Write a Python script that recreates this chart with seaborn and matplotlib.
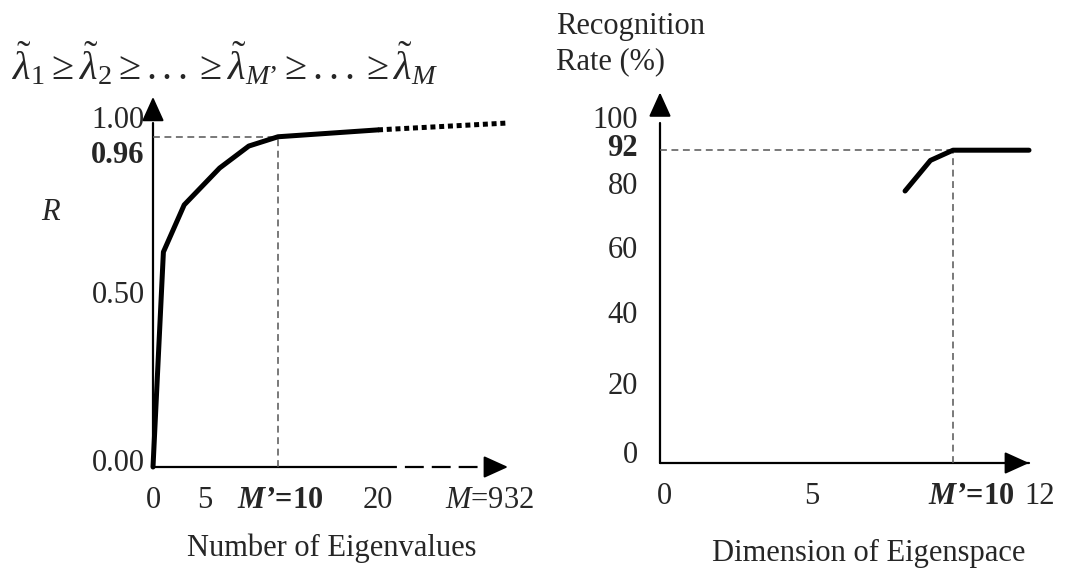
import numpy as np
import pandas as pd
import matplotlib
matplotlib.use("Agg")
import matplotlib.pyplot as plt
import matplotlib.transforms as mtransforms
import seaborn as sns

# ---------------- data ----------------
left_x = [0, 1, 3, 6, 8, 10, 20]
left_r = [0.0, 0.625, 0.762, 0.869, 0.933, 0.96, 0.98]
left_tail_x = [20, 932]
left_tail_r = [0.98, 1.0]
left_xticks = [0, 5, 10, 20, 932]
left_xticklabels = ["0", "5", "$\\mathbfit{M’}$=10", "20", "$\\mathit{M}$=932"]
left_yticks = [0.0, 0.5, 0.96, 1.0]
left_yticklabels = ["0.00", "0.50", "0.96", "1.00"]
left_cut = (10, 0.96)

right_x = [8.3, 9.2, 10, 12]
right_rate = [80, 89, 92, 92]
right_xticks = [0, 5, 10, 12]
right_xticklabels = ["0", "5", "$\\mathbfit{M’}$=10", "12"]
right_yticks = [0, 20, 40, 60, 80, 92, 100]
right_yticklabels = ["0", "20", "40", "60", "80", "92", "100"]
right_cut = (10, 92)

formula = (r"$\tilde{\lambda}_1 \geq \tilde{\lambda}_2 \geq ... \geq "
           r"\tilde{\lambda}_{M’} \geq ... \geq \tilde{\lambda}_M$")

# ---------------- style ----------------
sns.set_theme(style="white")
plt.rcParams["font.family"] = ["Liberation Serif", "DejaVu Serif"]
plt.rcParams["mathtext.fontset"] = "custom"
plt.rcParams["mathtext.rm"] = "Liberation Serif"
plt.rcParams["mathtext.it"] = "Liberation Serif:italic"
plt.rcParams["mathtext.bf"] = "Liberation Serif:bold"
try:
    plt.rcParams["mathtext.bfit"] = "Liberation Serif:bold:italic"
except KeyError:
    pass

W, H, DPI = 1065, 570, 100
FS = 22
fig = plt.figure(figsize=(W / DPI, H / DPI), dpi=DPI)


def piecewise(breaks, pix):
    b = np.asarray(breaks, float)
    p = np.asarray(pix, float)
    s0 = (p[1] - p[0]) / (b[1] - b[0])
    s1 = (p[-1] - p[-2]) / (b[-1] - b[-2])
    B = np.concatenate([[b[0] - 1e6], b, [b[-1] + 1e6]])
    P = np.concatenate([[p[0] - 1e6 * s0], p, [p[-1] + 1e6 * s1]])
    return (lambda x: np.interp(x, B, P)), (lambda q: np.interp(q, P, B))


def make_axes(x0, x1, y0px, ytop, xmap, yscale):
    """x0: pixel of y-axis, x1: right edge px, y0px: pixel of x-axis, ytop: top px"""
    ax = fig.add_axes([x0 / W, 1 - y0px / H, (x1 - x0) / W, (y0px - ytop) / H])
    fwd, inv = piecewise(*xmap)
    ax.set_xscale("function", functions=(fwd, inv))
    ax.set_xlim(float(inv(x0)), float(inv(x1)))
    ax.set_ylim(0, (y0px - ytop) / yscale)
    for s in ax.spines.values():
        s.set_visible(False)
    ax.patch.set_alpha(0)
    ax.tick_params(length=0, labelsize=FS)
    return ax


def nudge(labels, offs):
    for lab, (dx, dy) in zip(labels, offs):
        lab.set_transform(lab.get_transform() +
                          mtransforms.ScaledTranslation(dx / DPI, -dy / DPI, fig.dpi_scale_trans))


def head(ax, tip, back):
    ax.annotate("", xy=tip, xytext=back, xycoords="data", textcoords="offset points",
                arrowprops=dict(arrowstyle="-|>,head_length=1.5,head_width=0.68",
                                mutation_scale=10, lw=1.5, color="black",
                                shrinkA=0, shrinkB=0),
                annotation_clip=False)


# ---------------- left panel ----------------
axL = make_axes(153, 530, 467, 90, ([0, 5, 10, 20, 932], [153, 205, 278, 378, 508]), 344.0)

# axes lines
axL.plot([0, 0], [0, 1.0], color="black", lw=1.6, clip_on=False)
head(axL, (0, 1.076), (0, -16))
axL.plot([0, 20], [0, 0], color="black", lw=1.6, clip_on=False, solid_capstyle="butt")
axL.plot([21, 932], [0, 0], color="black", lw=1.6, clip_on=False, dashes=(8.5, 3.6))
head(axL, (932, 0), (-16, 0))

# guides
axL.plot([0, left_cut[0]], [left_cut[1]] * 2, color="#555555", lw=1.1, dashes=(4.5, 3), clip_on=False)
axL.plot([left_cut[0]] * 2, [0, left_cut[1]], color="#555555", lw=1.1, dashes=(4.5, 3), clip_on=False)

dfL = pd.DataFrame({"n": left_x, "R": left_r})
sns.lineplot(data=dfL, x="n", y="R", ax=axL, color="black", linewidth=3.6, clip_on=False)
dfLt = pd.DataFrame({"n": left_tail_x, "R": left_tail_r})
sns.lineplot(data=dfLt, x="n", y="R", ax=axL, color="black", linewidth=3.6,
             linestyle=(0, (1, 0.75)), clip_on=False)

axL.set_xticks(left_xticks, left_xticklabels)
axL.set_yticks(left_yticks, left_yticklabels)
axL.tick_params(axis="x", pad=14)
axL.tick_params(axis="y", pad=6)
for lab, w in zip(axL.get_xticklabels(), ["normal", "normal", "bold", "normal", "normal"]):
    lab.set_fontweight(w)
for lab, w in zip(axL.get_yticklabels(), ["normal", "normal", "bold", "normal"]):
    lab.set_fontweight(w)
nudge(axL.get_xticklabels(), [(0, 0), (0, 0), (2, 0), (0, 0), (-18, 0)])
nudge(axL.get_yticklabels(), [(0, -7), (0, -3), (0, 15), (0, -6)])

axL.set_xlabel("Number of Eigenvalues", fontsize=FS)
axL.xaxis.set_label_coords((332 - 153) / (530 - 153), (467 - 548) / (467 - 90))
axL.xaxis.label.set_va("center")
axL.set_ylabel("R", fontsize=FS, style="italic", rotation=0)
axL.yaxis.set_label_coords((50 - 153) / (530 - 153), (467 - 213) / (467 - 90))
axL.yaxis.label.set_va("center")
axL.yaxis.label.set_ha("center")

fig.text(12 / W, 1 - 64 / H, formula, fontsize=29, ha="left", va="center")

# ---------------- right panel ----------------
axR = make_axes(660, 1040, 463, 90, ([0, 5, 10, 12], [660, 812, 953, 1029]), 3.40)

axR.plot([0, 0], [0, 100], color="black", lw=1.6, clip_on=False)
head(axR, (0, 109), (0, -16))
axR.plot([0, 12], [0, 0], color="black", lw=1.6, clip_on=False)
head(axR, (12, 0), (-16, 0))

axR.plot([0, right_cut[0]], [right_cut[1]] * 2, color="#555555", lw=1.1, dashes=(4.5, 3), clip_on=False)
axR.plot([right_cut[0]] * 2, [0, right_cut[1]], color="#555555", lw=1.1, dashes=(4.5, 3), clip_on=False)

dfR = pd.DataFrame({"dim": right_x, "rate": right_rate})
sns.lineplot(data=dfR, x="dim", y="rate", ax=axR, color="black", linewidth=3.6, clip_on=False)

axR.set_xticks(right_xticks, right_xticklabels)
axR.set_yticks(right_yticks, right_yticklabels)
axR.tick_params(axis="x", pad=14)
axR.tick_params(axis="y", pad=16)
for lab, w in zip(axR.get_xticklabels(), ["normal", "normal", "bold", "normal"]):
    lab.set_fontweight(w)
for lab, w in zip(axR.get_yticklabels(), ["normal"] * 5 + ["bold", "normal"]):
    lab.set_fontweight(w)
nudge(axR.get_xticklabels(), [(4, 0), (0, 0), (18, 0), (11, 0)])
nudge(axR.get_yticklabels(), [(0, -11), (0, -12), (0, -15), (0, -12), (0, -8), (0, -5), (0, -6)])

axR.set_xlabel("Dimension of Eigenspace", fontsize=FS)
axR.xaxis.set_label_coords((869 - 660) / (1040 - 660), (463 - 553) / (463 - 90))
axR.xaxis.label.set_va("center")
axR.set_ylabel("Recognition\nRate (%)", fontsize=FS, rotation=0, linespacing=1.3)
axR.yaxis.set_label_coords((556 - 660) / (1040 - 660), (463 - 44) / (463 - 90))
axR.yaxis.label.set_va("center")
axR.yaxis.label.set_ha("left")

fig.savefig("out.png", dpi=DPI, facecolor="white")
